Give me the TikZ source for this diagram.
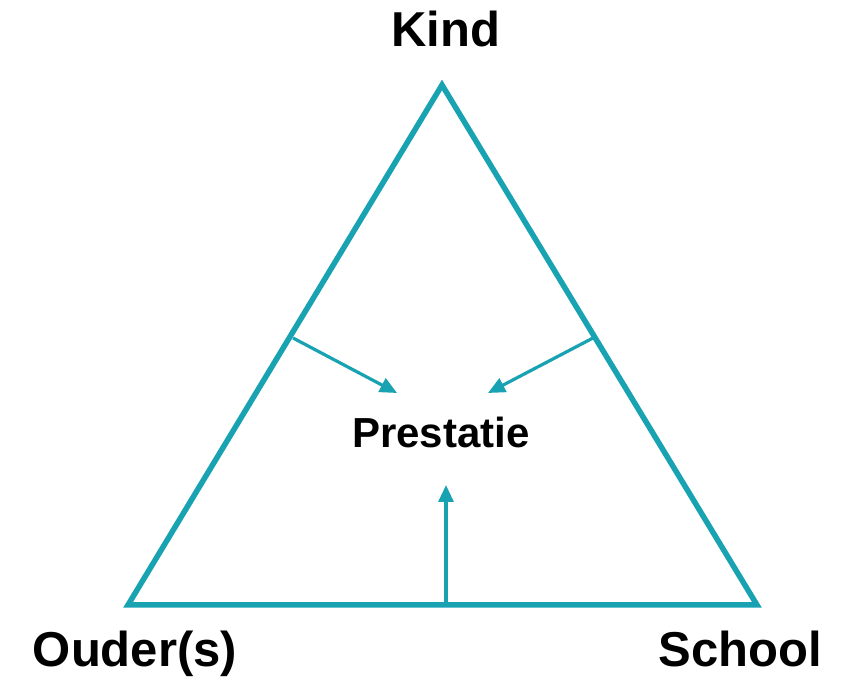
\documentclass[tikz,border=0pt]{standalone}
\usepackage{fontspec}
\setmainfont{Liberation Sans}
\usetikzlibrary{arrows.meta}
\definecolor{teal1}{RGB}{24,162,178}
\begin{document}
\begin{tikzpicture}[x=1pt,y=1pt,
  edge/.style={draw=teal1,line width=5.5pt,line join=miter},
  arr/.style={draw=teal1,line width=3.2pt,-{Triangle[length=17pt,width=15pt]}},
  lab/.style={font=\bfseries\fontsize{49}{53}\selectfont,anchor=base,inner sep=0pt},
  mid/.style={font=\bfseries\fontsize{42}{46}\selectfont,anchor=base,inner sep=0pt}]
\useasboundingbox (0,0) rectangle (854,684);
\coordinate (top) at (442,599);
\coordinate (bl) at (128,79);
\coordinate (br) at (757,79);
\draw[edge] (top) -- (bl) -- (br) -- cycle;
\node[lab] (kind) at (446,637) {Kind};
\node[lab] (ouder) at (135,17) {Ouder(s)};
\node[lab] (school) at (740,17) {School};
\node[mid] (prest) at (441,236) {Prestatie};
\coordinate (lp) at (293,346);
\coordinate (rp) at (593,346);
\coordinate (bp) at (446,79);
\coordinate (le) at (397,291);
\coordinate (re) at (488,291);
\coordinate (be) at (446,199);
\draw[arr] (lp) -- (le);
\draw[arr] (rp) -- (re);
\draw[arr] (bp) -- (be);
\end{tikzpicture}
\end{document}
